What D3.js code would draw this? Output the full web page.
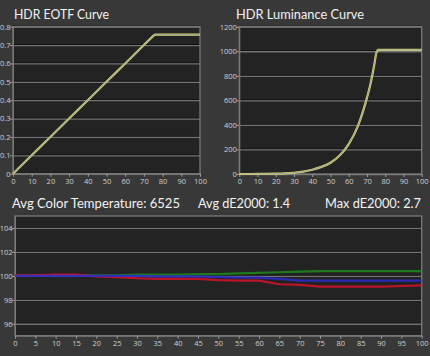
<!DOCTYPE html>
<html><head><meta charset="utf-8">
<script src="https://cdn.jsdelivr.net/npm/d3@7"></script>
<style>
html,body{margin:0;padding:0;background:#383838;}
svg{display:block;}
</style></head>
<body>
<svg id="c" width="430" height="356"></svg>
<script>
// ---- data ----
const eotfX = [0,5,10,15,20,25,30,35,40,45,50,55,60,65,70,75,76,80,85,90,95,100];
const eotfY = [0,0.05,0.1,0.15,0.2,0.25,0.3,0.35,0.4,0.45,0.5,0.55,0.6,0.65,0.7,0.75,0.757,0.757,0.757,0.757,0.757,0.757];
const eotfTicksY = [0,0.1,0.2,0.3,0.4,0.5,0.6,0.7,0.8];
const lumX = [0,5,10,15,20,25,30,35,40,45,50,55,60,65,70,72,74,75,76,80,85,90,95,100];
const lumY = [0,0.1,0.3,1,2.5,5,10,19,35,58,92,151,244,390,622,740,890,983,1012,1012,1012,1012,1012,1012];
const lumTicksY = [0,200,400,600,800,1000,1200];
const xTicks10 = [0,10,20,30,40,50,60,70,80,90,100];
const rgbX = [0,5,10,15,20,25,30,35,40,45,50,55,60,65,70,75,80,85,90,95,100];
const greenVals = [100.05,100.05,100.05,100.05,100.05,100.05,100.1,100.1,100.1,100.15,100.15,100.2,100.25,100.3,100.35,100.4,100.4,100.4,100.4,100.4,100.4];
const redVals = [100.05,100.05,100.1,100.1,99.95,99.9,99.8,99.75,99.75,99.75,99.65,99.6,99.6,99.3,99.25,99.1,99.1,99.1,99.1,99.15,99.2];
const blueVals = [100,100,100,100,100,100,100,99.95,99.95,99.95,99.9,99.85,99.85,99.75,99.6,99.6,99.6,99.6,99.6,99.6,99.6];
const rgbTicksY = [96,98,100,102,104];
const xTicks5 = [0,5,10,15,20,25,30,35,40,45,50,55,60,65,70,75,80,85,90,95,100];
const titles = ["HDR EOTF Curve","HDR Luminance Curve"];
const statTitles = ["Avg Color Temperature: 6525","Avg dE2000: 1.4","Max dE2000: 2.7"];

const svg = d3.select("#c");
const FONT = "'Open Sans', 'DejaVu Sans', sans-serif";
const TFONT = "Lato, 'Open Sans', sans-serif";

function panel(x0,x1,y0,y1,xDom,yDom,xt,yt,fmt){
  const x = d3.scaleLinear().domain(xDom).range([x0,x1]);
  const y = d3.scaleLinear().domain(yDom).range([y1,y0]);
  const g = svg.append("g");
  g.append("rect").attr("x",x0).attr("y",y0).attr("width",x1-x0).attr("height",y1-y0).attr("fill","#232323");
  yt.forEach(v=>{
    g.append("line").attr("x1",x0).attr("x2",x1).attr("y1",y(v)-0.5).attr("y2",y(v)-0.5).attr("stroke","#111").attr("stroke-width",1);
    g.append("line").attr("x1",x0).attr("x2",x1).attr("y1",y(v)+0.5).attr("y2",y(v)+0.5).attr("stroke","#727272").attr("stroke-width",1.3);
  });
  g.append("rect").attr("x",x0).attr("y",y0).attr("width",x1-x0).attr("height",y1-y0).attr("fill","none").attr("stroke","#7a7a7a").attr("stroke-width",1.3);
  const ax = g.append("g").attr("transform",`translate(0,${y1})`).call(d3.axisBottom(x).tickValues(xt).tickSize(3).tickSizeOuter(0));
  const ay = g.append("g").attr("transform",`translate(${x0},0)`).call(d3.axisLeft(y).tickValues(yt).tickSize(3).tickSizeOuter(0).tickFormat(fmt||(d=>d)));
  [ax,ay].forEach(a=>{
    a.select(".domain").attr("stroke","#7a7a7a");
    a.selectAll(".tick line").attr("stroke","#9a9a9a");
    a.selectAll("text").attr("fill","#d0d0d0").attr("font-size",7.5).attr("font-family",FONT);
  });
  ay.selectAll("text").attr("x",-2.5);
  ax.selectAll("text").attr("y",5);
  return {x,y,g};
}

// Chart 1
const p1 = panel(13,200,26.7,173.7,[0,100],[0,0.8],xTicks10,eotfTicksY,d=>d===0?"0":d3.format(".1f")(d));
const line1 = d3.line().x((d,i)=>p1.x(eotfX[i])).y(d=>p1.y(d));
p1.g.append("path").datum(eotfY).attr("d",line1).attr("fill","none").attr("stroke","#d8d870").attr("stroke-width",2.2);
p1.g.append("path").datum(eotfY).attr("d",line1).attr("fill","none").attr("stroke","#a8a890").attr("stroke-width",1.2);

// Chart 2: smooth rise up to 75, then straight shoulder
const p2 = panel(239.3,421.7,26.7,174,[0,100],[0,1200],xTicks10,lumTicksY);
const k75 = lumX.indexOf(75);
const rise = lumY.slice(0,k75+1).map((v,i)=>[lumX[i],v]);
const flat = lumY.slice(k75).map((v,i)=>[lumX[i+k75],v]);
const lineS = d3.line().curve(d3.curveMonotoneX).x(d=>p2.x(d[0])).y(d=>p2.y(d[1]));
const lineL = d3.line().x(d=>p2.x(d[0])).y(d=>p2.y(d[1]));
[[rise,lineS],[flat,lineL]].forEach(([dat,ln])=>{
  p2.g.append("path").datum(dat).attr("d",ln).attr("fill","none").attr("stroke","#d8d870").attr("stroke-width",2.2).attr("stroke-linejoin","round");
  p2.g.append("path").datum(dat).attr("d",ln).attr("fill","none").attr("stroke","#a8a890").attr("stroke-width",1.2);
});

// Chart 3
const p3 = panel(15,421.7,216,335.7,[0,100],[95,105],xTicks5,rgbTicksY);
const line3 = d3.line().x((d,i)=>p3.x(rgbX[i])).y(d=>p3.y(d));
[[greenVals,"#1f8a1f"],[redVals,"#d8122a"],[blueVals,"#2a2ad0"]].forEach(([vals,c])=>{
  p3.g.append("path").datum(vals).attr("d",line3).attr("fill","none").attr("stroke",c).attr("stroke-width",2.2).attr("opacity",0.85);
});

// titles
const tstyle = (s,w)=>s.attr("fill","#f2f2f2").attr("font-family",TFONT).attr("font-size",13.5)
  .attr("textLength",w).attr("lengthAdjust","spacingAndGlyphs");
tstyle(svg.append("text").attr("x",14).attr("y",19).text(titles[0]),95);
tstyle(svg.append("text").attr("x",236).attr("y",19).text(titles[1]),128);
tstyle(svg.append("text").attr("x",12).attr("y",208).text(statTitles[0]),168);
tstyle(svg.append("text").attr("x",198).attr("y",208).text(statTitles[1]),92);
tstyle(svg.append("text").attr("x",325).attr("y",208).text(statTitles[2]),96);
</script>
</body></html>
